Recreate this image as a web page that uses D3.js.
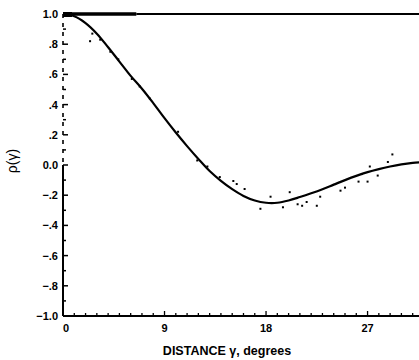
<!DOCTYPE html>
<html>
<head>
<meta charset="utf-8">
<script src="https://cdn.jsdelivr.net/npm/d3@7"></script>
<style>
    body { margin: 0; background: #fff; }
    svg { display: block; }
</style>
</head>
<body>
<div class="chart"></div>
<script>
"use strict";

// Fitted correlation curve, rho(gamma) against distance in degrees
var fitDistance = [0, 1, 2, 3, 4, 5, 6, 7, 8, 9, 10, 11, 12, 13, 14, 15, 16,
    17, 18, 19, 20, 21, 22, 23, 24, 25, 26, 27, 28, 29, 30, 31, 32]
var fitRho = [1.0, 0.985, 0.94, 0.87, 0.78, 0.685, 0.59, 0.505, 0.41, 0.31, 0.215,
    0.125, 0.04, -0.04, -0.105, -0.16, -0.205, -0.235, -0.25, -0.25, -0.235, -0.212,
    -0.187, -0.16, -0.13, -0.10, -0.072, -0.047, -0.027, -0.01, 0.004, 0.014, 0.02]

// Scattered observed values around the fit
var obsDistance = [2.4, 2.6, 3.3, 4.2, 4.9, 6.1, 6.8, 7.7, 10.2, 11.9, 12.8, 13.9,
    15.1, 15.4, 16.1, 17.5, 18.4, 19.5, 20.1, 20.8, 21.2, 21.6, 22.5, 22.8,
    24.6, 25.0, 26.2, 26.5, 27.0, 27.2, 27.9, 28.8, 29.2]
var obsRho = [0.82, 0.87, 0.83, 0.75, 0.70, 0.57, 0.52, 0.44, 0.22, 0.03, -0.01,
    -0.08, -0.106, -0.126, -0.159, -0.29, -0.21, -0.28, -0.18, -0.26, -0.27,
    -0.245, -0.27, -0.21, -0.17, -0.15, -0.11, -0.06, -0.11, -0.01, -0.07, 0.02, 0.07]

var xTickValues = [0, 9, 18, 27]
var yTickValues = [1.0, 0.8, 0.6, 0.4, 0.2, 0.0, -0.2, -0.4, -0.6, -0.8, -1.0]
var yTickLabels = ['1.0', '.8', '.6', '.4', '.2', '0.0', '\u2212.2', '\u2212.4', '\u2212.6', '\u2212.8', '\u22121.0']

var chartWidth = 419
var chartHeight = 360
var plotLeft = 63
var plotTop = 14
var plotBottom = 316

var svg = d3.select('div.chart').append('svg')
    .attr('width', chartWidth)
    .attr('height', chartHeight)

var x = d3.scaleLinear()
    .domain([0, 36])
    .range([plotLeft, plotLeft + 36 * 11.28])

var y = d3.scaleLinear()
    .domain([-1, 1])
    .range([plotBottom, plotTop])

var font = 'Liberation Sans, Arial, sans-serif'

// Frame: top line at 1.0, bottom axis, left axis (broken above zero as in the scan)
svg.append('line')
    .attr('x1', plotLeft).attr('x2', x(6.5))
    .attr('y1', y(1)).attr('y2', y(1))
    .attr('stroke', '#000').attr('stroke-width', 3.5)
svg.append('line')
    .attr('x1', x(6.5)).attr('x2', chartWidth)
    .attr('y1', y(1)).attr('y2', y(1))
    .attr('stroke', '#000').attr('stroke-width', 2.2)
svg.append('rect')
    .attr('x', plotLeft).attr('y', y(1) - 2)
    .attr('width', 9).attr('height', 5)
    .attr('fill', '#000')

svg.append('line')
    .attr('x1', plotLeft).attr('x2', chartWidth)
    .attr('y1', plotBottom).attr('y2', plotBottom)
    .attr('stroke', '#000').attr('stroke-width', 2)

svg.append('line')
    .attr('x1', plotLeft).attr('x2', plotLeft)
    .attr('y1', y(0)).attr('y2', plotBottom)
    .attr('stroke', '#000').attr('stroke-width', 2)
svg.append('line')
    .attr('x1', plotLeft).attr('x2', plotLeft)
    .attr('y1', y(1)).attr('y2', y(0))
    .attr('stroke', '#000').attr('stroke-width', 1.6)
    .attr('stroke-dasharray', '4,5')

// Y ticks: major every .2, minor every .1, pointing inward
var yMinor = d3.range(-10, 11).map(d => d / 10)
svg.selectAll('yTick')
    .data(yMinor)
    .enter()
    .append('line')
    .attr('x1', plotLeft)
    .attr('x2', d => Math.abs(Math.round(d * 10)) % 2 === 0 ? plotLeft + 5 : plotLeft + 3)
    .attr('y1', d => y(d))
    .attr('y2', d => y(d))
    .attr('stroke', '#000')
    .attr('stroke-width', 1.5)

svg.selectAll('yLabel')
    .data(yTickValues)
    .enter()
    .append('text')
    .text((d, i) => yTickLabels[i])
    .attr('x', plotLeft - 5)
    .attr('y', d => y(d) + 4)
    .attr('text-anchor', 'end')
    .attr('font-family', font)
    .attr('font-size', 11)
    .attr('font-weight', 'bold')

// X ticks: short ticks every degree, labels every 9
svg.selectAll('xTick')
    .data(d3.range(1, 32))
    .enter()
    .append('line')
    .attr('x1', d => x(d))
    .attr('x2', d => x(d))
    .attr('y1', plotBottom)
    .attr('y2', d => d % 9 === 0 ? plotBottom - 5 : plotBottom - 3)
    .attr('stroke', '#000')
    .attr('stroke-width', 1.3)

svg.selectAll('xLabel')
    .data(xTickValues)
    .enter()
    .append('text')
    .text(d => d)
    .attr('x', d => d === 0 ? x(d) + 3 : x(d))
    .attr('y', plotBottom + 16)
    .attr('text-anchor', 'middle')
    .attr('font-family', font)
    .attr('font-size', 11)
    .attr('font-weight', 'bold')

// Axis titles
svg.append('text')
    .text('DISTANCE \u03b3, degrees')
    .attr('x', 227)
    .attr('y', 355)
    .attr('text-anchor', 'middle')
    .attr('font-family', font)
    .attr('font-size', 12.5)
    .attr('font-weight', 'bold')

svg.append('text')
    .text('\u03c1(\u03b3)')
    .attr('transform', 'translate(17,161) rotate(-90)')
    .attr('text-anchor', 'middle')
    .attr('font-family', font)
    .attr('font-size', 14)

// Observed points
svg.selectAll('obs')
    .data(obsDistance)
    .enter()
    .append('rect')
    .attr('x', d => x(d) - 1)
    .attr('y', (d, i) => y(obsRho[i]) - 1)
    .attr('width', 2)
    .attr('height', 2)
    .attr('fill', '#000')

// Fitted curve
var line = d3.line()
    .x(d => x(d))
    .y((d, i) => y(fitRho[i]))
    .curve(d3.curveCatmullRom)

svg.append('path')
    .datum(fitDistance)
    .attr('d', line)
    .attr('fill', 'none')
    .attr('stroke', '#000')
    .attr('stroke-width', 2.2)
</script>
</body>
</html>
